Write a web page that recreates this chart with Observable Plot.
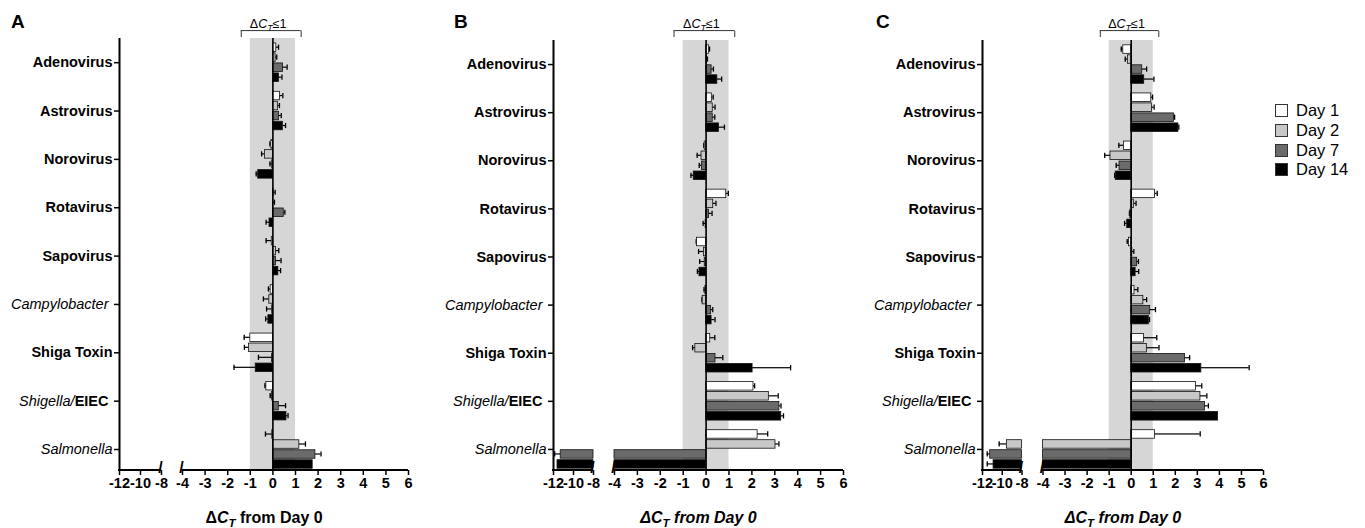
<!DOCTYPE html>
<html>
<head>
<meta charset="utf-8">
<script src="https://cdn.jsdelivr.net/npm/d3@7"></script>
<script src="https://cdn.jsdelivr.net/npm/@observablehq/plot@0.6"></script>
<style>
  html, body { margin: 0; padding: 0; background: #fff; }
  #wrap { position: relative; width: 1365px; height: 528px; font-family: "Liberation Sans", Arial, sans-serif; }
  .panel { position: absolute; top: 0; }
  .plabel { position: absolute; top: 12px; font-size: 19px; line-height: 1; font-weight: bold; }
  .legend { position: absolute; left: 1275px; top: 101px; font-size: 16.5px; }
  .legend .row { display: flex; align-items: center; height: 19.7px; }
  .legend .box { width: 13px; height: 13px; box-sizing: border-box; border: 1px solid #333; margin-right: 8px; }
</style>
</head>
<body>
<div id="wrap"></div>
<script>
// ---------- data ----------
const categories = ["Adenovirus", "Astrovirus", "Norovirus", "Rotavirus", "Sapovirus",
  "Campylobacter", "Shiga Toxin", "Shigella/EIEC", "Salmonella"];
const days = ["Day 1", "Day 2", "Day 7", "Day 14"];
const dayFill = ["#ffffff", "#c8c8c8", "#6b6b6b", "#000000"];

const xDomain = [-12, -8, -4, 6];          // broken axis: -12..-8 and -4..6
const xTicks = [-12, -10, -8, -4, -3, -2, -1, 0, 1, 2, 3, 4, 5, 6];
const xBreak = [-8, -4];
const axisSegments = [{a: -12, b: -8}, {a: -4, b: 6}];
const shade = [{lo: -1, hi: 1}];
const bracketEnds = [-1.4, 1.25];
const bracketLabel = "ΔCT≤1";
const axisTitle = "ΔCT from Day 0";

// mean ΔCT per category (rows) and day (columns)
const meanA = [
  [0.15, 0.12, 0.45, 0.27],
  [0.31, 0.22, 0.27, 0.44],
  [-0.07, -0.35, -0.03, -0.65],
  [0.03, 0.01, 0.48, -0.15],
  [-0.05, 0.14, 0.14, 0.24],
  [-0.10, -0.16, -0.03, -0.20],
  [-1.00, -1.06, -0.04, -0.76],
  [-0.29, -0.04, 0.26, 0.60],
  [-0.03, 1.17, 1.88, 1.76]
];
const errA = [
  [0.10, 0.05, 0.18, 0.13],
  [0.13, 0.07, 0.10, 0.12],
  [0.06, 0.15, 0.10, 0.09],
  [0.07, 0.06, 0.05, 0.15],
  [0.25, 0.12, 0.22, 0.10],
  [0.10, 0.26, 0.25, 0.12],
  [0.27, 0.20, 0.60, 0.96],
  [0.06, 0.08, 0.30, 0.07],
  [0.30, 0.27, 0.25, 0.00]
];
const meanB = [
  [0.12, 0.04, 0.24, 0.49],
  [0.25, 0.29, 0.29, 0.56],
  [-0.06, -0.20, -0.18, -0.54],
  [0.88, 0.31, 0.13, -0.02],
  [-0.40, -0.09, -0.06, -0.29],
  [-0.03, -0.15, 0.22, 0.24],
  [0.18, -0.47, 0.41, 2.03],
  [2.07, 2.74, 3.20, 3.28],
  [2.25, 3.03, -11.28, -11.60]
];
const errB = [
  [0.03, 0.02, 0.08, 0.19],
  [0.06, 0.10, 0.09, 0.24],
  [0.04, 0.19, 0.12, 0.12],
  [0.09, 0.12, 0.13, 0.11],
  [0.03, 0.24, 0.22, 0.09],
  [0.06, 0.03, 0.07, 0.15],
  [0.20, 0.12, 0.32, 1.66],
  [0.05, 0.41, 0.07, 0.10],
  [0.44, 0.15, 0.60, 0.00]
];
const meanC = [
  [-0.36, -0.15, 0.50, 0.59],
  [0.91, 0.94, 1.94, 2.14],
  [-0.33, -0.94, -0.53, -0.70],
  [1.08, 0.12, -0.04, -0.18],
  [-0.10, 0.05, 0.27, 0.20],
  [0.15, 0.55, 0.86, 0.80],
  [0.58, 0.71, 2.44, 3.18],
  [2.94, 3.14, 3.35, 3.94],
  [1.08, -9.53, -11.22, -10.88]
];
const errC = [
  [0.09, 0.12, 0.20, 0.44],
  [0.06, 0.10, 0.03, 0.02],
  [0.23, 0.26, 0.15, 0.05],
  [0.10, 0.10, 0.04, 0.12],
  [0.08, 0.07, 0.06, 0.14],
  [0.15, 0.15, 0.24, 0.03],
  [0.58, 0.55, 0.21, 2.17],
  [0.26, 0.29, 0.15, 0.00],
  [2.05, 0.78, 0.30, 0.64]
];

// ---------- layout ----------
const H = 528, AXIS_Y = 470, SUB = 10, BARH = 8.5;
const panels = [
  {id: "A", mean: meanA, err: errA, left: 0,   width: 420, top: 38, bot: 473.2, range: [119, 161, 182, 408],   labelX: 11,  italic: false},
  {id: "B", mean: meanB, err: errB, left: 434, width: 420, top: 40, bot: 473,   range: [119, 159, 180, 409],   labelX: 454, italic: true},
  {id: "C", mean: meanC, err: errC, left: 863, width: 410, top: 40, bot: 473,   range: [119, 158.5, 179.5, 400], labelX: 876, italic: true}
];

const wrap = document.getElementById("wrap");

function setParts(el, parts, size) {
  const s = d3.select(el);
  s.selectAll("*").remove();
  s.text(null);
  let shift = 0;
  for (const p of parts) {
    const ts = s.append("tspan").text(p.t);
    ts.attr("font-style", p.it ? "italic" : "normal");
    ts.attr("font-weight", p.w || "bold");
    const target = p.sub ? size * 0.3 : 0;
    if (target !== shift) { ts.attr("dy", target - shift); shift = target; }
    if (p.sub) ts.attr("font-size", size * 0.72);
  }
}

function makePanel(cfg) {
  const {mean, err, top, bot, range, width} = cfg;
  // broken-axis transform: the x scale maps data values piecewise onto the axis
  const brk = d3.scaleLinear().domain(xDomain).range(range);
  const rows = [];
  categories.forEach((c, ci) => days.forEach((d, di) =>
    rows.push({cat: c, day: d, di, v: mean[ci][di], e: err[ci][di]})));
  const segs = rows.flatMap(r => r.v >= xBreak[1]
    ? [{...r, a: 0, b: r.v}]
    : [{...r, a: r.v, b: xBreak[0]}, {...r, a: xBreak[1], b: 0}]);
  const band = (bot - top) / categories.length;
  const off = (band - (3 * SUB + BARH)) / 2;
  const frameH = AXIS_Y - top;
  const end = r => r.v + (r.v < 0 ? -r.e : r.e);
  const tickLabel = new Map(xTicks.map(t => [brk(t), String(t)]));

  const marks = [
    Plot.rect(shade, {x1: "lo", x2: "hi", fill: "#d6d6d6"})
  ];
  days.forEach((d, i) => {
    const it = off + i * SUB, ib = band - it - BARH, c = it + BARH / 2;
    const er = rows.filter(r => r.di === i && r.e > 0);
    marks.push(Plot.barX(er, {y: "cat", x1: "v", x2: end, fill: "#000",
      insetTop: c - 0.6, insetBottom: band - c - 0.6}));
    marks.push(Plot.tickX(er, {y: "cat", x: end, stroke: "#000", strokeWidth: 1.3,
      insetTop: c - 2.6, insetBottom: band - c - 2.6}));
    marks.push(Plot.barX(segs.filter(s => s.di === i), {y: "cat", x1: "a", x2: "b",
      fill: dayFill[i], stroke: "#111", strokeWidth: 0.8, insetTop: it, insetBottom: ib}));
  });
  marks.push(
    Plot.ruleX([0], {stroke: "#000", strokeWidth: 1.6}),
    Plot.ruleX([xDomain[0]], {stroke: "#000", strokeWidth: 2}),
    Plot.rect(axisSegments, {x1: "a", x2: "b", fill: "#000", insetTop: frameH - 1, insetBottom: -1, insetLeft: -1}),
    Plot.text(xBreak, {x: d => d, text: () => "/", frameAnchor: "bottom", dx: -1, dy: 2, fontSize: 16, fontWeight: "bold"}),
    Plot.tickX(bracketEnds, {x: d => d, stroke: "#444", strokeWidth: 1.1,
      insetTop: 30.5 - top, insetBottom: AXIS_Y - 37}),
    Plot.rect([{a: bracketEnds[0], b: bracketEnds[1]}], {x1: "a", x2: "b", fill: "#444",
      insetTop: 30 - top, insetBottom: frameH - (30 - top) - 1.1}),
    Plot.text([bracketLabel], {x: () => (bracketEnds[0] + bracketEnds[1]) / 2, dx: -3,
      frameAnchor: "top", lineAnchor: "bottom", dy: 27 - top, fontSize: 12.5, fontWeight: "normal"}),
    Plot.text([axisTitle], {frameAnchor: "bottom", lineAnchor: "bottom", dy: 52, fontSize: 16, fontWeight: "bold"})
  );

  const svg = Plot.plot({
    width, height: H,
    marginTop: top, marginBottom: H - AXIS_Y,
    marginLeft: range[0], marginRight: width - range[3],
    style: {fontFamily: '"Liberation Sans", Arial, sans-serif', fontSize: "14.5px",
      fontWeight: "bold", background: "transparent", overflow: "visible", color: "#000"},
    x: {type: "linear", transform: brk, domain: [range[0], range[3]], range: [range[0], range[3]],
      ticks: xTicks.map(brk), tickFormat: u => tickLabel.get(u) ?? "",
      tickSize: 5, tickPadding: 2, label: null},
    y: {type: "band", domain: categories, range: [top, bot], padding: 0, round: false,
      tickSize: 5, tickPadding: 2, label: null},
    marks
  });

  const d3svg = d3.select(svg);
  d3svg.selectAll("text").each(function() {
    const t = this.textContent;
    if (t === "Campylobacter") { setParts(this, [{t: "Campylobacter", it: true, w: "normal"}], 14.5); d3.select(this).attr("dx", -4); }
    else if (t === "Salmonella") setParts(this, [{t: "Salmonella", it: true, w: "normal"}], 14.5);
    else if (t === "Shigella/EIEC") { setParts(this, [{t: "Shigella/", it: true, w: "normal"}, {t: "EIEC", w: "bold"}], 14.5); d3.select(this).attr("dx", -4); }
    else if (t === bracketLabel) setParts(this, [{t: "Δ", w: "normal"}, {t: "C", it: true, w: "normal"}, {t: "T", it: true, sub: true, w: "normal"}, {t: "≤1", w: "normal"}], 12.5);
    else if (t === axisTitle) setParts(this, [{t: "Δ", it: cfg.italic}, {t: "C", it: true}, {t: "T", it: true, sub: true}, {t: " from Day 0", it: cfg.italic}], 16);
  });
  d3svg.selectAll("[aria-label$='axis'] line, [aria-label$='tick'] path, g.tick line").attr("stroke-width", 1.5);

  const div = document.createElement("div");
  div.className = "panel";
  div.style.left = cfg.left + "px";
  div.appendChild(svg);
  wrap.appendChild(div);

  const lab = document.createElement("div");
  lab.className = "plabel";
  lab.style.left = cfg.labelX + "px";
  lab.textContent = cfg.id;
  wrap.appendChild(lab);
}

panels.forEach(makePanel);

// legend
const legend = document.createElement("div");
legend.className = "legend";
days.forEach((d, i) => {
  const row = document.createElement("div");
  row.className = "row";
  const box = document.createElement("span");
  box.className = "box";
  box.style.background = dayFill[i];
  const txt = document.createElement("span");
  txt.textContent = d;
  row.appendChild(box);
  row.appendChild(txt);
  legend.appendChild(row);
});
wrap.appendChild(legend);
</script>
</body>
</html>
